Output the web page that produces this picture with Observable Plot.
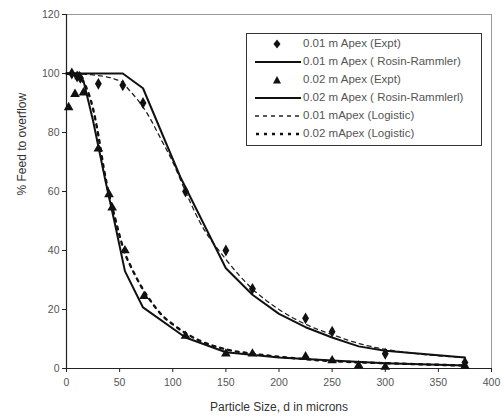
<!DOCTYPE html>
<html>
<head>
<meta charset="utf-8">
<script src="https://cdn.jsdelivr.net/npm/d3@7"></script>
<script src="https://cdn.jsdelivr.net/npm/@observablehq/plot@0.6"></script>
<style>
  body { margin: 0; background: #fff; }
  #wrap { position: relative; width: 504px; height: 419px; font-family: "Liberation Sans", Arial, sans-serif; }
  #legend { position: absolute; left: 246px; top: 33px; width: 234px; height: 110px; border: 1px solid #333; background: #fff; padding-top: 1px; }
  .row { position: relative; height: 18px; }
  .row svg { position: absolute; left: 8px; top: 0; }
  .row span { position: absolute; left: 56px; top: 2px; font-size: 11.5px; color: #555; white-space: nowrap; }
</style>
</head>
<body>
<div id="wrap"><div id="legend"></div></div>
<script>
// ---- data ----
const xTicks = [0, 50, 100, 150, 200, 250, 300, 350, 400];
const yTicks = [0, 20, 40, 60, 80, 100, 120];

const legendLabels = [
  "0.01 m Apex (Expt)",
  "0.01 m Apex ( Rosin-Rammler)",
  "0.02 m Apex (Expt)",
  "0.02 m Apex ( Rosin-Rammlerl)",
  "0.01 mApex (Logistic)",
  "0.02 mApex (Logistic)"
];

// 0.01 m Apex experimental (diamonds)
const expt01X = [5, 10, 13, 30, 53, 72, 112, 150, 175, 225, 250, 300, 375];
const expt01Y = [100, 99, 98.5, 96.5, 96, 90, 60, 40, 27, 17, 12.5, 5, 2];

// 0.02 m Apex experimental (triangles)
const expt02X = [2, 8, 12, 16, 30, 40, 43, 55, 73, 112, 150, 175, 225, 250, 275, 300, 375];
const expt02Y = [88.5, 93, 99, 93.5, 74.5, 59, 54.5, 40, 24.5, 11, 5, 5, 4, 2.7, 1, 0.5, 0.8];

// Rosin-Rammler fits
const rr01X = [0, 10, 25, 53, 72, 107, 150, 175, 200, 225, 250, 275, 300, 375];
const rr01Y = [100, 100, 100, 100, 95, 65, 34, 25, 18.5, 14, 10.5, 7.5, 6, 3.7];
const rr02X = [0, 10, 16, 25, 37, 45, 55, 72, 112, 150, 200, 250, 300, 375];
const rr02Y = [100, 100, 97.5, 84, 63, 50, 33, 20.7, 10.5, 5.5, 3.7, 2.7, 1.8, 1];

// Logistic fits
const lg01X = [0, 25, 50, 60, 75, 90, 100, 112, 125, 150, 175, 200, 225, 250, 275, 300, 325, 350, 375];
const lg01Y = [100, 99.5, 97.5, 94, 87, 77, 70, 60, 50, 37, 27, 20, 15, 11.5, 8.5, 6.5, 5.2, 4.3, 3.7];
const lg02X = [0, 10, 20, 25, 30, 35, 40, 45, 50, 55, 60, 70, 80, 90, 100, 112, 125, 150, 175, 200, 250, 300, 375];
const lg02Y = [100, 99, 94, 88, 79, 68, 59, 52, 45, 39, 35, 28, 22.5, 18, 15, 12, 9.5, 6.5, 5, 4, 2.5, 1.8, 1];

const xTitle = "Particle Size, d in microns";
const yTitle = "% Feed to overflow";

// ---- build tables ----
const pts = (xs, ys) => xs.map((x, i) => ({x, y: ys[i]}));
const e01 = pts(expt01X, expt01Y);
const e02 = pts(expt02X, expt02Y);
const r01 = pts(rr01X, rr01Y);
const r02 = pts(rr02X, rr02Y);
const l01 = pts(lg01X, lg01Y);
const l02 = pts(lg02X, lg02Y);

const chart = Plot.plot({
  width: 504,
  height: 419,
  marginLeft: 66,
  marginRight: 13,
  marginTop: 14,
  marginBottom: 51,
  style: {fontFamily: "'Liberation Sans', Arial, sans-serif", fontSize: "10.5px", color: "#555", background: "#fff", overflow: "visible"},
  x: {domain: [0, 400]},
  y: {domain: [0, 120]},
  marks: [
    Plot.frame({stroke: "#9a9a9a"}),
    Plot.axisX(xTicks, {tickSize: 4, tickPadding: 6, label: null, stroke: "#222", fill: "#555"}),
    Plot.axisY(yTicks, {tickSize: 4, tickPadding: 3, label: null, stroke: "#222", fill: "#555"}),
    Plot.ruleX([0], {stroke: "#222", strokeWidth: 1.2}),
    Plot.ruleY([0], {stroke: "#222", strokeWidth: 1.2}),
    Plot.line(l01, {x: "x", y: "y", curve: "monotone-x", stroke: "#222", strokeWidth: 1.3, strokeDasharray: "4,4"}),
    Plot.line(l02, {x: "x", y: "y", curve: "monotone-x", stroke: "#111", strokeWidth: 2.4, strokeDasharray: "3,5"}),
    Plot.line(r01, {x: "x", y: "y", stroke: "#111", strokeWidth: 2}),
    Plot.line(r02, {x: "x", y: "y", stroke: "#111", strokeWidth: 2}),
    Plot.dot(e01, {x: "x", y: "y", symbol: "diamond", fill: "#111", r: 3.6}),
    Plot.dot(e02, {x: "x", y: "y", symbol: "triangle", fill: "#111", r: 3.6}),
    Plot.text([xTitle], {frameAnchor: "bottom", dy: 42, fontSize: 12, fill: "#333"}),
    Plot.text([yTitle], {frameAnchor: "left", rotate: -90, dx: -44, dy: 4, fontSize: 12, fill: "#333"})
  ]
});
document.getElementById("wrap").prepend(chart);

// ---- legend ----
const legend = document.getElementById("legend");
const swatches = [
  `<path d="M22,4.5 L25.5,9 L22,13.5 L18.5,9 Z" fill="#111"/>`,
  `<line x1="0" x2="46" y1="9" y2="9" stroke="#111" stroke-width="2"/>`,
  `<path d="M22,5 L26,12.5 L18,12.5 Z" fill="#111"/>`,
  `<line x1="0" x2="46" y1="9" y2="9" stroke="#111" stroke-width="2"/>`,
  `<line x1="0" x2="46" y1="9" y2="9" stroke="#222" stroke-width="1.3" stroke-dasharray="4,4"/>`,
  `<line x1="1" x2="46" y1="9" y2="9" stroke="#111" stroke-width="2.4" stroke-dasharray="3,5"/>`
];
legendLabels.forEach((lab, i) => {
  const row = document.createElement("div");
  row.className = "row";
  row.innerHTML = `<svg width="48" height="18">${swatches[i]}</svg><span></span>`;
  row.querySelector("span").textContent = lab;
  legend.appendChild(row);
});
</script>
</body>
</html>
